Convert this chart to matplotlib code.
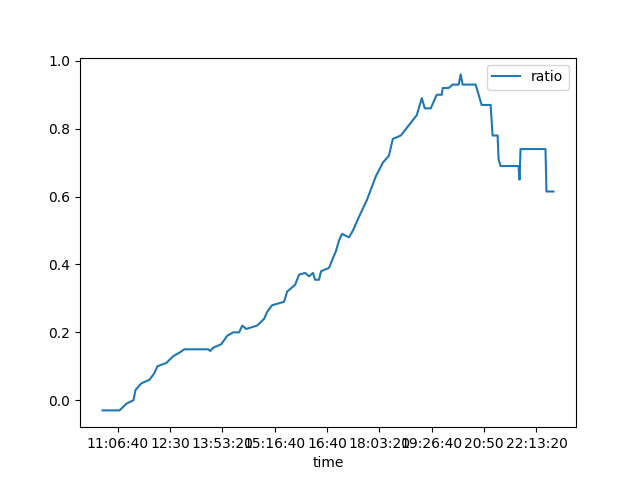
import matplotlib
matplotlib.use("Agg")
import matplotlib.pyplot as plt
from matplotlib.ticker import FuncFormatter, MultipleLocator

seconds = [38571,40190,40857,41524,41714,42286,43048,43524,43810,44667,45333,45905,46381,
           48667,48857,49143,49905,50476,51048,51619,51905,52286,53333,54000,54286,54762,
           55905,56190,56952,57333,57905,58286,58667,58857,59238,59429,60190,60857,61143,
           61429,62095,62476,63048,63810,64667,65333,65905,66286,67048,67810,68571,69048,
           69333,69905,70476,70952,71048,71619,72000,72571,72762,72952,74190,74476,74762,
           75619,75810,76286,76381,76571,78286,78381,78476,80857,80952,81619]
ratio = [-0.03,-0.03,-0.01,0.0,0.03,0.05,0.06,0.08,0.10,0.11,0.13,0.14,0.15,
         0.15,0.145,0.155,0.165,0.19,0.20,0.20,0.22,0.21,0.22,0.24,0.26,0.28,
         0.29,0.32,0.34,0.37,0.375,0.365,0.375,0.355,0.355,0.38,0.39,0.44,0.47,
         0.49,0.48,0.50,0.54,0.59,0.66,0.70,0.72,0.77,0.78,0.81,0.84,0.89,
         0.86,0.86,0.90,0.90,0.92,0.92,0.93,0.93,0.96,0.93,0.93,0.90,0.87,
         0.87,0.78,0.78,0.71,0.69,0.69,0.65,0.74,0.74,0.615,0.615]

def fmt(x, pos):
    s = int(round(x)) % 86400
    h, m, sec = s // 3600, (s % 3600) // 60, s % 60
    return f"{h:02d}:{m:02d}" if sec == 0 else f"{h:02d}:{m:02d}:{sec:02d}"

fig, ax = plt.subplots(figsize=(6.4, 4.8), dpi=100)
ax.plot(seconds, ratio, label="ratio", color="#1f77b4")
ax.xaxis.set_major_locator(MultipleLocator(5000))
ax.xaxis.set_major_formatter(FuncFormatter(fmt))
ax.set_xlabel("time")
ax.legend(loc="upper right")
fig.savefig("out.png")
